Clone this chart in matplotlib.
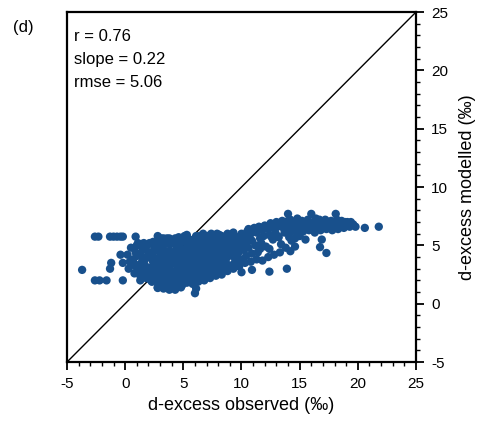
import matplotlib
matplotlib.use("Agg")
import matplotlib.pyplot as plt
from matplotlib.ticker import MultipleLocator

# outlying points on the left
obs_left = [-2.6, -2.3, -1.3, -1.0, -0.7, -0.4, -0.2, 0.9, -3.7,
            -2.6, -2.2, -1.6, -0.2, 1.3, 2.0, 2.3, 2.8,
            -1.2, -1.3, -0.4, -0.2, 0.7, 1.85, 6.0, 6.1]
mod_left = [5.75, 5.75, 5.75, 5.75, 5.75, 5.75, 5.75, 5.75, 2.9,
            2.0, 2.0, 2.0, 2.0, 2.0, 2.3, 1.9, 1.35,
            3.5, 3.0, 4.2, 3.5, 3.5, 5.0, 0.9, 1.3]

# dense core of the cloud
obs_core = [0.3, 0.4, 0.2, 0.5,
            0.8, 0.9, 0.7, 0.9, 1.0,
            1.3, 1.2, 1.4, 1.3, 1.5, 1.4,
            1.8, 1.9, 1.7, 1.8, 2.0, 1.9,
            2.3, 2.4, 2.2, 2.4, 2.3, 2.5, 2.4,
            2.8, 2.9, 2.7, 2.9, 2.8, 3.0, 2.8, 2.9, 2.8,
            3.3, 3.4, 3.2, 3.4, 3.3, 3.5, 3.3, 3.4, 3.3,
            3.8, 3.9, 3.7, 3.9, 3.8, 4.0, 3.8, 3.9, 3.8,
            4.3, 4.4, 4.2, 4.4, 4.3, 4.5, 4.3, 4.4, 4.3,
            4.8, 4.9, 4.7, 4.9, 4.8, 5.0, 4.8, 4.9, 5.1,
            5.3, 5.4, 5.2, 5.4, 5.3, 5.5, 5.3, 5.4, 5.3,
            5.8, 5.9, 5.7, 5.9, 5.8, 6.0, 5.8, 5.9,
            6.3, 6.4, 6.2, 6.4, 6.3, 6.5, 6.3, 6.4,
            6.8, 6.9, 6.7, 6.9, 6.8, 7.0, 6.8, 6.7,
            7.3, 7.4, 7.2, 7.4, 7.3, 7.5, 7.3, 7.4,
            7.8, 7.9, 7.7, 7.9, 7.8, 8.0, 7.8, 7.9,
            8.3, 8.4, 8.2, 8.4, 8.3, 8.5, 8.3,
            8.8, 8.9, 8.7, 8.9, 8.8, 9.0, 8.8,
            9.3, 9.4, 9.2, 9.4, 9.3, 9.5, 9.3,
            9.8, 9.9, 9.7, 9.9, 9.8, 10.0,
            1.1, 1.6, 2.1, 2.6, 3.1, 3.6, 4.1, 4.6, 5.1, 5.6, 6.1, 6.6, 7.1, 7.6, 8.1, 8.6, 9.1,
            1.0, 1.5, 2.0, 2.5, 3.0, 3.5, 4.0, 4.5, 5.0, 5.5, 6.0, 6.5, 7.0, 7.5, 8.0, 8.5, 9.0, 9.6,
            2.6, 3.1, 3.6, 4.1, 4.6, 5.1, 5.6, 6.1, 6.6, 7.1, 7.6, 8.1]
mod_core = [3.0, 3.6, 4.2, 4.8,
            2.6, 3.2, 3.8, 4.4, 5.0,
            2.4, 3.0, 3.5, 4.1, 4.6, 5.1,
            2.2, 2.8, 3.3, 3.9, 4.4, 5.0,
            1.9, 2.5, 3.1, 3.6, 4.2, 4.7, 5.3,
            1.4, 2.0, 2.6, 3.2, 3.7, 4.3, 4.8, 5.4, 5.8,
            1.3, 1.9, 2.4, 3.0, 3.5, 4.1, 4.6, 5.2, 5.6,
            1.2, 1.8, 2.3, 2.9, 3.4, 4.0, 4.5, 5.1, 5.6,
            1.2, 1.7, 2.3, 2.8, 3.4, 3.9, 4.5, 5.0, 5.6,
            1.4, 2.0, 2.5, 3.1, 3.6, 4.2, 4.7, 5.3, 5.8,
            1.8, 2.3, 2.9, 3.4, 4.0, 4.5, 5.1, 5.6, 5.9,
            1.7, 2.2, 2.8, 3.3, 3.9, 4.4, 5.0, 5.5,
            1.9, 2.5, 3.0, 3.6, 4.1, 4.7, 5.2, 5.8,
            2.0, 2.6, 3.1, 3.7, 4.2, 4.8, 5.3, 6.0,
            2.2, 2.7, 3.3, 3.8, 4.4, 4.9, 5.5, 6.0,
            2.4, 2.9, 3.4, 4.0, 4.5, 5.1, 5.6, 6.0,
            2.5, 3.1, 3.6, 4.2, 4.7, 5.2, 5.8,
            2.8, 3.3, 3.9, 4.4, 4.9, 5.5, 6.0,
            3.0, 3.5, 4.1, 4.6, 5.2, 5.7, 6.1,
            3.2, 3.8, 4.3, 4.9, 5.4, 6.0,
            3.3, 3.2, 3.0, 3.0, 2.9, 2.8, 2.7, 2.8, 2.9, 3.0, 3.1, 3.3, 3.5, 3.6, 3.8, 4.0, 4.2,
            4.1, 4.0, 4.0, 3.9, 3.9, 3.8, 3.8, 3.7, 3.8, 3.8, 3.9, 4.0, 4.1, 4.3, 4.4, 4.6, 4.8, 5.0,
            4.6, 4.5, 4.5, 4.4, 4.4, 4.5, 4.5, 4.6, 4.7, 4.8, 5.0, 5.3]

# extra points filling the core
obs_fill = [2.9, 3.4, 3.9, 4.4, 4.9, 5.4,
            2.1, 2.6, 3.1, 3.6, 4.1, 4.6, 5.1, 5.6, 6.1, 6.6,
            1.6, 2.1, 3.6, 4.1, 4.6, 5.6, 6.1, 6.6, 7.1, 7.6, 8.1,
            0.6, 1.6, 2.6, 3.6, 4.6, 5.6, 6.6, 7.6, 8.6, 9.6,
            1.1, 1.6, 2.1, 2.6, 3.1, 3.6, 4.1, 4.6, 5.6, 6.1, 6.6, 7.1, 7.6, 8.1, 8.6, 9.1, 9.6, 10.1,
            3.1, 3.6, 4.6, 6.1, 7.1, 8.1, 9.1]
mod_fill = [1.6, 1.5, 1.5, 1.5, 1.6, 1.9,
            2.1, 2.1, 2.0, 2.1, 2.0, 2.1, 2.2, 2.2, 2.3, 2.4,
            2.6, 2.6, 2.6, 2.6, 2.5, 2.6, 2.7, 2.8, 2.8, 2.9, 3.0,
            3.4, 3.4, 3.4, 3.4, 3.3, 3.4, 3.4, 3.5, 3.6, 3.7,
            5.2, 5.2, 5.2, 5.1, 5.2, 5.2, 5.3, 5.2, 5.3, 5.3, 5.4, 5.4, 5.5, 5.5, 5.6, 5.6, 5.7, 5.7,
            5.6, 5.6, 5.7, 5.8, 5.8, 5.9, 5.9]

# looser middle part, x 10 to 14
obs_mid = [10.0, 10.9, 12.4, 13.9,
           10.3, 10.4, 10.2, 10.4, 10.5,
           10.8, 10.9, 10.9, 10.8, 11.0,
           11.3, 11.4, 11.2, 11.3, 11.5,
           11.8, 11.7, 11.9, 11.8, 12.0,
           12.3, 12.4, 12.4, 12.3, 12.5,
           12.8, 12.7, 12.9, 12.8, 13.0,
           13.3, 13.4, 13.2, 13.3, 13.5,
           13.8, 13.7, 13.9, 14.0,
           14.3, 14.6, 14.2, 15.0,
           10.6, 11.1, 11.6, 12.1, 12.6, 13.1, 13.6,
           10.6, 11.6, 12.6, 13.1, 14.1, 14.6,
           10.1, 10.6, 11.6, 12.1]
mod_mid = [2.7, 2.9, 2.75, 3.0,
           3.5, 4.1, 4.6, 5.2, 6.2,
           3.6, 4.3, 5.4, 6.0, 6.4,
           3.8, 4.4, 5.0, 6.1, 6.6,
           3.7, 5.2, 5.8, 6.3, 6.7,
           4.0, 4.7, 5.9, 6.4, 6.9,
           4.2, 5.5, 6.1, 6.6, 7.0,
           4.4, 5.1, 5.7, 6.8, 7.1,
           4.8, 6.1, 6.6, 7.1,
           5.4, 4.9, 4.5, 5.8,
           6.4, 6.5, 6.5, 6.6, 6.7, 6.6, 6.5,
           5.7, 5.6, 5.7, 5.8, 5.7, 5.6,
           4.8, 4.8, 4.7, 4.9]

# upper band on the right
obs_band = [14.3, 14.4, 14.2,
            14.8, 14.9, 14.7, 14.8,
            15.3, 15.4, 15.2,
            15.8, 15.9, 15.7,
            16.3, 16.4, 16.2, 16.4,
            16.8, 16.9, 16.7,
            17.3, 17.4, 17.2,
            17.8, 17.9, 17.7,
            18.3, 18.4, 18.2,
            18.8, 18.9, 19.3, 19.4, 19.8,
            14.0, 16.0, 18.1, 20.6, 21.8,
            15.5, 16.9, 16.75, 17.3,
            14.1, 14.6, 15.1, 15.6, 16.1, 16.6, 17.1, 17.6, 18.1, 18.6, 19.1, 19.6,
            13.6, 14.1, 14.6, 15.1, 15.6, 16.1, 16.6, 17.1, 17.6, 18.1, 18.6, 19.1]
mod_band = [6.2, 6.7, 7.2,
            6.0, 6.5, 7.0, 7.3,
            6.2, 6.7, 7.1,
            6.3, 6.8, 7.2,
            6.1, 6.6, 7.0, 7.3,
            6.3, 6.8, 7.2,
            6.4, 6.9, 7.2,
            6.3, 6.7, 7.1,
            6.4, 6.9, 7.2,
            6.5, 7.0, 6.6, 7.0, 6.6,
            7.7, 7.7, 7.7, 6.5, 6.6,
            5.5, 5.5, 4.85, 4.35,
            6.45, 6.4, 6.45, 6.5, 6.4, 6.5, 6.55, 6.5, 6.6, 6.7, 6.8, 6.8,
            6.9, 6.9, 6.8, 6.9, 7.0, 6.85, 7.0, 7.05, 6.95, 7.0, 7.1, 7.0]

stats_text = ["r = 0.76", "slope = 0.22", "rmse = 5.06"]
ticks = [-5, 0, 5, 10, 15, 20, 25]

plt.rcParams['font.family'] = ['Liberation Sans', 'DejaVu Sans']
plt.rcParams['axes.unicode_minus'] = False

fig = plt.figure(figsize=(4.9, 4.3), dpi=100)
ax = fig.add_axes([0.1367, 0.158, 0.7123, 0.814])

dot_color = '#18508c'
for xs, ys in [(obs_left, mod_left), (obs_core, mod_core), (obs_fill, mod_fill),
               (obs_mid, mod_mid), (obs_band, mod_band)]:
    ax.scatter(xs, ys, s=36, color=dot_color, edgecolors='none', zorder=3)

ax.plot([-5, 25], [-5, 25], color='black', linewidth=1.0, zorder=2)

ax.set_xlim(-5, 25)
ax.set_ylim(-5, 25)
ax.set_xticks(ticks)
ax.set_yticks(ticks)
ax.xaxis.set_minor_locator(MultipleLocator(1))
ax.yaxis.set_minor_locator(MultipleLocator(1))
ax.yaxis.tick_right()
ax.yaxis.set_label_position('right')
ax.tick_params(which='major', direction='out', length=6, width=1.3, labelsize=11, pad=5)
ax.tick_params(which='minor', direction='out', length=3, width=1.0)
ax.tick_params(axis='x', top=False)
ax.tick_params(axis='y', left=False, which='both')
for sp in ax.spines.values():
    sp.set_linewidth(1.6)

ax.set_xlabel('d-excess observed (‰)', fontsize=13, labelpad=4)
ax.set_ylabel('d-excess modelled (‰)', fontsize=13, labelpad=8)

for i, t in enumerate(stats_text):
    ax.text(0.02, 0.93 - i * 0.065, t, transform=ax.transAxes, fontsize=12,
            ha='left', va='center')

fig.text(0.027, 0.935, '(d)', fontsize=12, ha='left', va='center')

fig.savefig('out.png', dpi=100)
